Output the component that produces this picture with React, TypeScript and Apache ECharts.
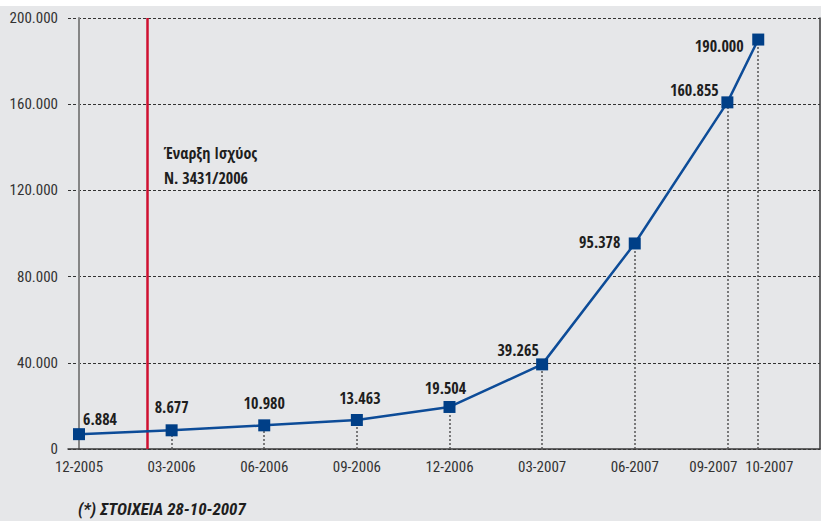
import React, { useEffect, useRef } from "react";
import * as echarts from "echarts";

// months since 12-2005
const monthIndex = [0, 3, 6, 9, 12, 15, 18, 21, 22];
const tickLabels = ["12-2005", "03-2006", "06-2006", "09-2006", "12-2006", "03-2007", "06-2007", "09-2007", "10-2007"];
const values = [6884, 8677, 10980, 13463, 19504, 39265, 95378, 160855, 190000];
const lawStartMonth = 2.2;
const annotationLines = ["Έναρξη Ισχύος", "Ν. 3431/2006"];
const footnote = "(*) ΣΤΟΙΧΕΙΑ 28-10-2007";

// label layout (offsets from marker centre)
const labelOffsets = [
  [21, -15], [0, -23], [0, -22], [3, -22], [-4, -19], [-24, -14], [-35, -1], [-33, -12], [-39, 6],
];
// tick-label nudges (rich padding) for the crowded last two labels
const tickRich: Record<string, string> = { "09-2007": "l", "10-2007": "r" };

const REG = '"Roboto Condensed", "Open Sans", sans-serif';
const BOLD = '"Open Sans Condensed", "Roboto Condensed", sans-serif';

const fmt = (v: number) => {
  const s = Math.round(v).toString();
  return s.replace(/\B(?=(\d{3})+(?!\d))/g, ".");
};

export default function App() {
  const ref = useRef<HTMLDivElement>(null);
  useEffect(() => {
    if (!ref.current) return;
    const chart = echarts.init(ref.current, null, { renderer: "svg" });
    const tickTextStyle = {
      color: "#333",
      fontFamily: REG,
      fontSize: 15,
    };
    const option: any = {
      animation: false,
      backgroundColor: "#e6e7e9",
      grid: { left: 68, right: 1, top: 12, bottom: 72, containLabel: false, outerBoundsMode: "none" },
      xAxis: {
        type: "value",
        min: -0.356,
        max: 24,
        axisLine: { onZero: false, lineStyle: { color: "#3a3a3a", width: 1.5 } },
        axisTick: { show: false },
        splitLine: { show: false },
        axisLabel: {
          customValues: monthIndex,
          hideOverlap: false,
          formatter: (v: number) => {
            const i = monthIndex.indexOf(Math.round(v));
            if (i < 0) return "";
            const t = tickLabels[i];
            return tickRich[t] ? `{${tickRich[t]}|${t}}` : t;
          },
          ...tickTextStyle,
          margin: 10,
          rich: {
            l: { ...tickTextStyle, padding: [0, 28, 0, 0] },
            r: { ...tickTextStyle, padding: [0, 0, 0, 22] },
          },
        },
      },
      yAxis: [
        {
          type: "value",
          min: 0,
          max: 200000,
          interval: 40000,
          axisLine: { show: true, onZero: true, lineStyle: { color: "#858585", width: 2 } },
          axisTick: { show: false },
          splitLine: { show: true, lineStyle: { color: "#333", type: [3, 2], width: 1 } },
          axisLabel: {
            formatter: (v: number) => fmt(v),
            ...tickTextStyle,
            margin: 10,
          },
        },
        {
          type: "value",
          position: "right",
          min: 0,
          max: 200000,
          axisLine: { show: true, onZero: false, lineStyle: { color: "#3a3a3a", width: 1.5 } },
          axisTick: { show: false },
          axisLabel: { show: false },
          splitLine: { show: false },
        },
      ],
      series: [
        {
          type: "line",
          data: [],
          markLine: {
            silent: true,
            symbol: ["none", "none"],
            label: { show: false },
            lineStyle: { color: "#cf1030", width: 2.5, type: "solid" },
            data: [{ xAxis: lawStartMonth }],
          },
        },
        {
          type: "line",
          data: monthIndex.map((m, i) => ({
            value: [m, values[i]],
            label: { position: "inside", offset: labelOffsets[i] },
          })),
          lineStyle: { color: "#0d4c98", width: 2.5 },
          symbol: "rect",
          symbolSize: 12,
          itemStyle: { color: "#003f87" },
          z: 5,
          label: {
            show: true,
            fontFamily: BOLD,
            fontWeight: "bold",
            fontSize: 16,
            color: "#1e1e1e",
            formatter: (p: any) => fmt(p.value[1]),
          },
          markLine: {
            silent: true,
            symbol: ["none", "none"],
            label: { show: false },
            lineStyle: { color: "#555", width: 1.5, type: [2, 2] },
            data: monthIndex.slice(1).map((m, i) => [
              { coord: [m, 0] },
              { coord: [m, values[i + 1]] },
            ]),
          },
        },
      ],
      graphic: [
        {
          type: "text",
          left: 164,
          top: 134,
          style: {
            text: annotationLines.join("\n"),
            font: `bold 16px ${BOLD}`,
            fill: "#1e1e1e",
            lineHeight: 25,
          },
        },
        {
          type: "text",
          left: 78,
          top: 494,
          style: {
            text: footnote,
            font: `italic bold 17px ${REG}`,
            fill: "#1e1e1e",
          },
        },
      ],
    };
    chart.setOption(option);
    return () => chart.dispose();
  }, []);
  return (
    <div style={{ position: "fixed", left: 0, top: 0, width: 821, height: 521, background: "#fff" }}>
      <div ref={ref} style={{ position: "absolute", left: 0, top: 6, width: 821, height: 515 }} />
    </div>
  );
}
